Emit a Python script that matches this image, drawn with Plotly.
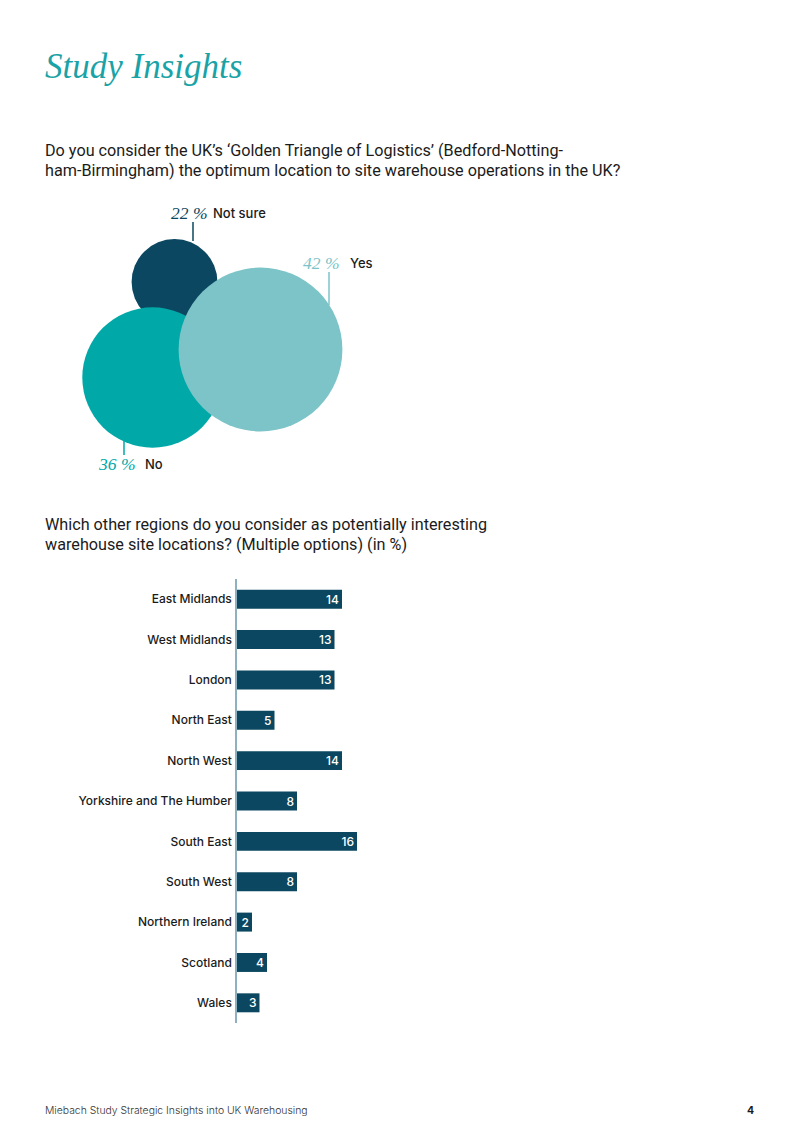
import plotly.graph_objects as go

# ---------------- data ----------------
answers = ["Not sure", "No", "Yes"]
answer_pct = [22, 36, 42]

regions = ["East Midlands", "West Midlands", "London", "North East", "North West",
           "Yorkshire and The Humber", "South East", "South West",
           "Northern Ireland", "Scotland", "Wales"]
region_pct = [14, 13, 13, 5, 14, 8, 16, 8, 2, 4, 3]

# ---------------- layout / style constants ----------------
W, H = 800, 1130
NAVY = "#0b4760"
TEAL = "#00a8a8"
LIGHT = "#7cc4c8"
TITLE_TEAL = "#1aa3a6"
TXT = "#1b1b1b"
SANS = "Inter, Roboto, 'Open Sans', sans-serif"
QFONT = "Roboto, Inter, sans-serif"
SERIF = "'Liberation Serif', 'DejaVu Serif', serif"

bubble_colors = [NAVY, TEAL, LIGHT]
bubble_cx = [174.5, 152.5, 260.5]      # packed-bubble layout positions (px)
bubble_cy = [282, 377.5, 349.5]
px_per_pct = 3.9                        # bubble diameter per percent

fig = go.Figure()

# bubbles (page-pixel axis x/y)
for name, v, c, cx, cy in zip(answers, answer_pct, bubble_colors, bubble_cx, bubble_cy):
    fig.add_trace(go.Scatter(
        x=[cx], y=[cy], mode="markers", name=name,
        marker=dict(size=[v], sizemode="diameter", sizeref=1 / px_per_pct,
                    color=c, opacity=1, line=dict(width=0)),
        hoverinfo="skip", showlegend=False, xaxis="x", yaxis="y"))

# bars
fig.add_trace(go.Bar(
    x=region_pct, y=regions, orientation="h",
    marker=dict(color=NAVY, line=dict(width=0)),
    text=[str(v) for v in region_pct], textposition="inside",
    insidetextanchor="end", textangle=0, constraintext="none",
    textfont=dict(color="white", size=12, family=SANS, weight=500),
    xaxis="x2", yaxis="y2", showlegend=False, hoverinfo="skip"))

annotations = []
def txt(x, y, s, size, color, family, xanchor="left", italic=False, weight=400):
    if italic:
        s = "<i>" + s + "</i>"
    annotations.append(dict(x=x, y=y, xref="x", yref="y", text=s, showarrow=False,
                            xanchor=xanchor, yanchor="middle", borderpad=0,
                            font=dict(size=size, color=color, family=family, weight=weight)))

# title & questions
txt(44, 66, "Study Insights", 35, TITLE_TEAL, SERIF, italic=True)
txt(44, 150, "Do you consider the UK’s ‘Golden Triangle of Logistics’ (Bedford-Notting-", 16.2, TXT, QFONT)
txt(44, 170, "ham-Birmingham) the optimum location to site warehouse operations in the UK?", 16.2, TXT, QFONT)
txt(44, 524, "Which other regions do you consider as potentially interesting", 16.2, TXT, QFONT)
txt(44, 544, "warehouse site locations? (Multiple options) (in %)", 16.2, TXT, QFONT)

# bubble labels
lab_pos = {"Not sure": (208, 213, 212), "Yes": (340, 263, 349), "No": (136, 464, 144)}
for name, v, c in zip(answers, answer_pct, bubble_colors):
    xe, yy, xs = lab_pos[name]
    txt(xe, yy, f"{v} %", 17.5, c, SERIF, xanchor="right", italic=True)
    txt(xs, yy, name, 13, TXT, SANS, weight=500)

# footer
txt(44, 1110, "Miebach Study Strategic Insights into UK Warehousing", 10.4, "#333333", SANS, weight=300)
txt(755, 1110, "<b>4</b>", 10.5, TXT, SANS, xanchor="right")

# leader lines
shapes = []
for (x0, y0, y1, c) in [(193, 222, 241, NAVY), (329, 272, 305, LIGHT), (124, 438, 455, TEAL)]:
    shapes.append(dict(type="line", xref="x", yref="y", x0=x0, x1=x0, y0=y0, y1=y1,
                       line=dict(color=c, width=1.5), layer="below"))

bar_left_px = 237
bar_range = 20
bar_px_per_unit = 7.5
top_px, bot_px = 579, 1023

fig.update_layout(
    width=W, height=H, margin=dict(l=0, r=0, t=0, b=0),
    paper_bgcolor="white", plot_bgcolor="rgba(0,0,0,0)",
    annotations=annotations, shapes=shapes,
    bargap=0.53,
    xaxis=dict(domain=[0, 1], range=[0, W], visible=False, fixedrange=True),
    yaxis=dict(domain=[0, 1], range=[H, 0], visible=False, fixedrange=True),
    xaxis2=dict(domain=[bar_left_px / W, (bar_left_px + bar_range * bar_px_per_unit) / W],
                range=[0, bar_range], anchor="y2", showgrid=False, zeroline=False,
                showticklabels=False, showline=False),
    yaxis2=dict(domain=[1 - bot_px / H, 1 - top_px / H], anchor="x2",
                categoryorder="array", categoryarray=regions, autorange="reversed",
                showline=True, linecolor="#8eb0bf", linewidth=1.5, showgrid=False,
                ticks="", ticklabelstandoff=1,
                tickfont=dict(size=12, color=TXT, family=SANS, weight=500)),
    font=dict(family=SANS),
)

fig.write_html("out.html")
